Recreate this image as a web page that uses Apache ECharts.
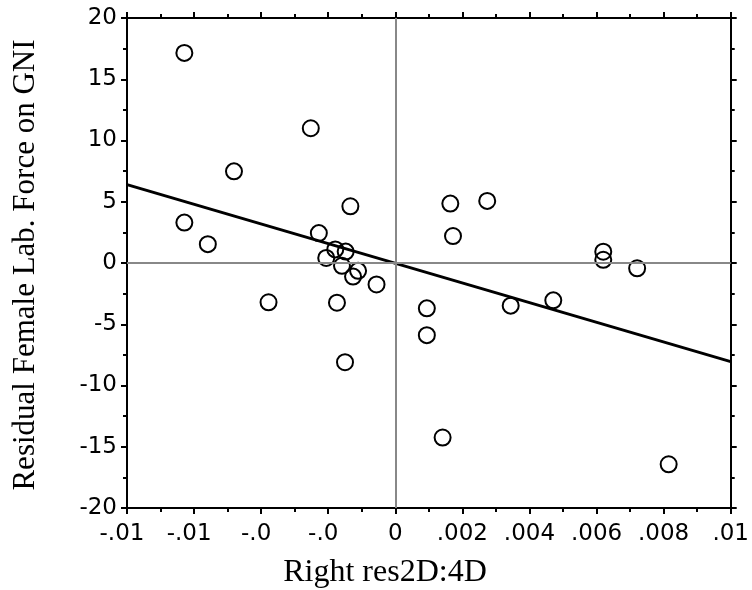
<!DOCTYPE html>
<html>
<head>
<meta charset="utf-8">
<script src="https://cdn.jsdelivr.net/npm/echarts@6/dist/echarts.min.js"></script>
<style>
html,body{margin:0;padding:0;background:#fff;}
#chart{width:752px;height:590px;}
</style>
</head>
<body>
<div id="chart"></div>
<script>
// Data
const xValues = [-0.00629,-0.00252,-0.00481,-0.00134,-0.00629,-0.00559,-0.00228,-0.00179,-0.00148,-0.00206,
  -0.00159,-0.00111,-0.00126,-0.00056,-0.00378,-0.00174,-0.00150,0.00164,0.00274,0.00172,
  0.00094,0.00094,0.00141,0.00344,0.00471,0.00620,0.00620,0.00721,0.00815];
const yValues = [17.15,11.0,7.48,4.63,3.30,1.54,2.44,1.11,0.93,0.41,
  -0.23,-0.64,-1.11,-1.75,-3.21,-3.24,-8.1,4.85,5.07,2.2,
  -3.7,-5.89,-14.25,-3.48,-3.05,0.92,0.26,-0.43,-16.43];
const fitX = [-0.008, 0.01];
const fitY = [6.4, -8.05];
const xTickValues = [-0.008,-0.006,-0.004,-0.002,0,0.002,0.004,0.006,0.008,0.01];
const xTickLabels = ["-.01","-.01","-.0","-.0","0",".002",".004",".006",".008",".01"];
const xTitle = "Right res2D:4D";
const yTitle = "Residual Female Lab. Force on GNI";

const points = xValues.map((x,i)=>[x,yValues[i]]);
const fitLine = fitX.map((x,i)=>[x,fitY[i]]);

const tickFont = 'DejaVu Sans';
const tickSize = 23;
function xFmt(v){
  for (let i=0;i<xTickValues.length;i++){
    if (Math.abs(v-xTickValues[i])<1e-9) return v<0 ? '{neg|'+xTickLabels[i]+'}' : xTickLabels[i];
  }
  return '';
}
function axisBase(showLabels){
  return {
    type:'value',
    axisLine:{show:true,onZero:false,lineStyle:{color:'#000',width:2}},
    axisTick:{show:true,inside:false,length:6,lineStyle:{color:'#000',width:2}},
    minorTick:{show:true,splitNumber:2,length:4,lineStyle:{color:'#000',width:2}},
    splitLine:{show:false},
    minorSplitLine:{show:false},
    axisLabel:{show:showLabels,color:'#000',fontSize:tickSize,fontFamily:tickFont,margin:10}
  };
}
const xb = Object.assign(axisBase(true),{position:'bottom',min:-0.008,max:0.01,interval:0.002});
xb.axisLabel.formatter = xFmt;
xb.axisLabel.margin = 15;
xb.axisLabel.rich = {neg:{padding:[0,10,0,0],fontSize:tickSize,fontFamily:tickFont,color:'#000'}};
const xt = Object.assign(axisBase(false),{position:'top',min:-0.008,max:0.01,interval:0.002});
const yl = Object.assign(axisBase(true),{position:'left',min:-20,max:20,interval:5});
const yr = Object.assign(axisBase(false),{position:'right',min:-20,max:20,interval:5});

const chart = echarts.init(document.getElementById('chart'),null,{renderer:'canvas'});
chart.setOption({
  animation:false,
  grid:{left:127,right:12,top:18,bottom:82,containLabel:false},
  xAxis:[xb,xt],
  yAxis:[yl,yr],
  graphic:[
    {type:'text',x:385,y:573,style:{text:xTitle,font:'32px "Liberation Serif"',fill:'#000',textAlign:'center',textVerticalAlign:'middle'}},
    {type:'text',x:26,y:265,rotation:Math.PI/2,style:{text:yTitle,font:'31px "Liberation Serif"',fill:'#000',textAlign:'center',textVerticalAlign:'middle'}}
  ],
  series:[
    {
      type:'line',data:fitLine,xAxisIndex:0,yAxisIndex:0,symbol:'none',
      lineStyle:{color:'#000',width:3},z:3,
      markLine:{silent:true,symbol:['none','none'],label:{show:false},
        lineStyle:{color:'#888',width:2,type:'solid'},
        data:[{xAxis:0},{yAxis:0}]}
    },
    {
      type:'scatter',data:points,xAxisIndex:0,yAxisIndex:0,symbol:'circle',symbolSize:16,
      itemStyle:{color:'rgba(0,0,0,0)',borderColor:'#000',borderWidth:2,opacity:1},z:4
    }
  ]
});
</script>
</body>
</html>
